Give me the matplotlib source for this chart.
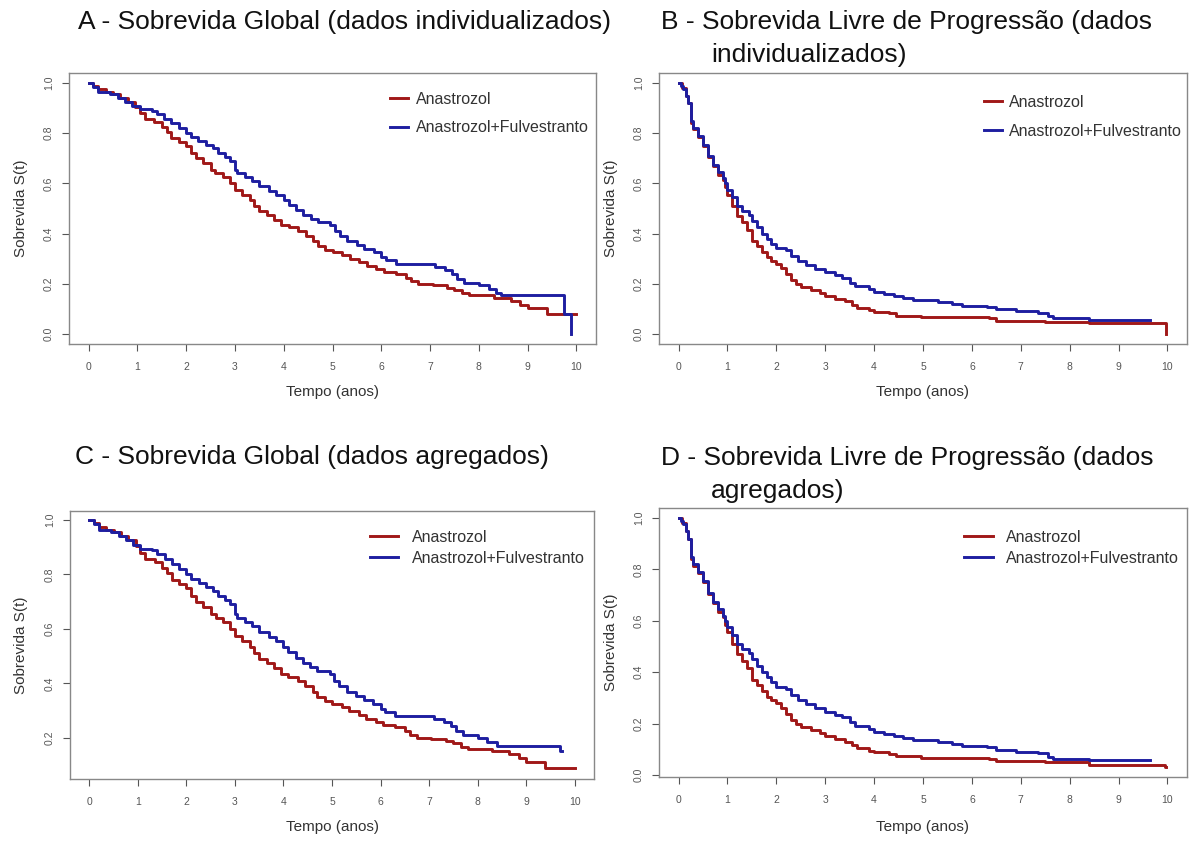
import matplotlib
matplotlib.use("Agg")
import matplotlib.pyplot as plt

plt.rcParams['font.family'] = ['Liberation Sans', 'DejaVu Sans']

# ---------------- DATA ----------------
labels = ["Anastrozol", "Anastrozol+Fulvestranto"]
titles = [["A - Sobrevida Global (dados individualizados)"],
          ["B - Sobrevida Livre de Progressão (dados", "individualizados)"],
          ["C - Sobrevida Global (dados agregados)"],
          ["D - Sobrevida Livre de Progressão (dados", "agregados)"]]
x_ticks = [0, 1, 2, 3, 4, 5, 6, 7, 8, 9, 10]
y_ticks_full = [0.0, 0.2, 0.4, 0.6, 0.8, 1.0]
y_ticks_c = [0.2, 0.4, 0.6, 0.8, 1.0]

# Panel A - OS individual
a_red_t = [0, 0.1, 0.2, 0.35, 0.5, 0.65, 0.8, 0.95, 1.05, 1.15, 1.35, 1.5, 1.6, 1.7, 1.85, 2.0,
           2.1, 2.2, 2.35, 2.5, 2.6, 2.75, 2.9, 3.0, 3.15, 3.3, 3.4, 3.5, 3.65, 3.8, 3.95, 4.1,
           4.3, 4.45, 4.6, 4.7, 4.85, 5.0, 5.2, 5.35, 5.55, 5.7, 5.9, 6.05, 6.3, 6.5, 6.6, 6.75,
           7.05, 7.35, 7.5, 7.65, 7.8, 8.3, 8.65, 8.85, 9.0, 9.4, 10.0]
a_red_s = [1.0, 0.99, 0.975, 0.965, 0.955, 0.94, 0.925, 0.905, 0.88, 0.858, 0.845, 0.825, 0.805,
           0.78, 0.765, 0.75, 0.72, 0.70, 0.68, 0.655, 0.64, 0.625, 0.60, 0.575, 0.555, 0.535,
           0.51, 0.49, 0.475, 0.455, 0.435, 0.425, 0.41, 0.39, 0.37, 0.35, 0.335, 0.325, 0.315,
           0.30, 0.285, 0.27, 0.258, 0.248, 0.24, 0.225, 0.21, 0.20, 0.195, 0.185, 0.175, 0.165,
           0.155, 0.145, 0.13, 0.115, 0.105, 0.08, 0.08]
a_blue_t = [0, 0.1, 0.2, 0.45, 0.6, 0.75, 0.9, 1.05, 1.3, 1.4, 1.55, 1.7, 1.85, 2.0, 2.1, 2.25,
            2.4, 2.55, 2.65, 2.8, 2.9, 3.0, 3.05, 3.2, 3.35, 3.5, 3.7, 3.85, 4.0, 4.1, 4.25, 4.4,
            4.55, 4.7, 4.95, 5.05, 5.15, 5.3, 5.5, 5.65, 5.85, 6.0, 6.1, 6.3, 7.1, 7.3, 7.45,
            7.55, 7.7, 8.0, 8.2, 8.35, 8.45, 9.75, 9.88]
a_blue_s = [1.0, 0.985, 0.965, 0.955, 0.94, 0.925, 0.91, 0.895, 0.89, 0.875, 0.855, 0.84, 0.82,
            0.80, 0.785, 0.77, 0.755, 0.74, 0.72, 0.705, 0.69, 0.655, 0.64, 0.625, 0.61, 0.59,
            0.57, 0.555, 0.535, 0.515, 0.495, 0.475, 0.46, 0.445, 0.435, 0.41, 0.39, 0.37,
            0.355, 0.34, 0.325, 0.305, 0.295, 0.28, 0.265, 0.255, 0.24, 0.22, 0.205, 0.195,
            0.18, 0.165, 0.155, 0.08, 0.0]

# Panel C - OS aggregated
c_red_t = [0, 0.1, 0.2, 0.35, 0.5, 0.65, 0.8, 0.95, 1.05, 1.15, 1.35, 1.5, 1.6, 1.7, 1.85, 2.0,
           2.1, 2.2, 2.35, 2.5, 2.6, 2.75, 2.9, 3.0, 3.15, 3.3, 3.4, 3.5, 3.65, 3.8, 3.95, 4.1,
           4.3, 4.45, 4.6, 4.7, 4.85, 5.0, 5.2, 5.35, 5.55, 5.7, 5.9, 6.05, 6.3, 6.5, 6.6, 6.75,
           7.05, 7.35, 7.5, 7.65, 7.8, 8.3, 8.65, 8.85, 9.0, 9.4, 10.0]
c_red_s = [1.0, 0.99, 0.975, 0.965, 0.955, 0.94, 0.925, 0.905, 0.88, 0.858, 0.845, 0.825, 0.805,
           0.78, 0.765, 0.75, 0.72, 0.70, 0.68, 0.655, 0.64, 0.625, 0.60, 0.575, 0.555, 0.535,
           0.51, 0.49, 0.475, 0.455, 0.435, 0.425, 0.41, 0.39, 0.37, 0.35, 0.335, 0.325, 0.315,
           0.30, 0.285, 0.27, 0.258, 0.248, 0.24, 0.225, 0.21, 0.20, 0.197, 0.19, 0.18, 0.168,
           0.158, 0.15, 0.14, 0.125, 0.11, 0.09, 0.09]
c_blue_t = [0, 0.1, 0.2, 0.45, 0.6, 0.75, 0.9, 1.05, 1.3, 1.4, 1.55, 1.7, 1.85, 2.0, 2.1, 2.25,
            2.4, 2.55, 2.65, 2.8, 2.9, 3.0, 3.05, 3.2, 3.35, 3.5, 3.7, 3.85, 4.0, 4.1, 4.25, 4.4,
            4.55, 4.7, 4.95, 5.05, 5.15, 5.3, 5.5, 5.65, 5.85, 6.0, 6.1, 6.3, 7.1, 7.3, 7.45,
            7.55, 7.7, 8.0, 8.2, 8.4, 9.7, 9.75]
c_blue_s = [1.0, 0.985, 0.965, 0.955, 0.94, 0.925, 0.91, 0.895, 0.89, 0.875, 0.855, 0.84, 0.82,
            0.80, 0.785, 0.77, 0.755, 0.74, 0.72, 0.705, 0.69, 0.655, 0.64, 0.625, 0.61, 0.59,
            0.57, 0.555, 0.535, 0.515, 0.495, 0.475, 0.46, 0.445, 0.435, 0.41, 0.39, 0.37,
            0.355, 0.34, 0.325, 0.305, 0.295, 0.28, 0.27, 0.26, 0.245, 0.225, 0.21, 0.20,
            0.185, 0.17, 0.15, 0.15]

# Panel B - PFS individual
b_red_t = [0, 0.08, 0.15, 0.2, 0.25, 0.3, 0.4, 0.5, 0.6, 0.7, 0.8, 0.9, 0.95, 1.0, 1.1, 1.2,
           1.3, 1.4, 1.5, 1.6, 1.7, 1.8, 1.9, 2.0, 2.1, 2.2, 2.3, 2.4, 2.5, 2.7, 2.9, 3.0, 3.2,
           3.4, 3.55, 3.65, 3.9, 4.0, 4.3, 4.45, 4.95, 6.35, 6.5, 7.5, 8.4, 9.97, 9.97]
b_red_s = [1.0, 0.98, 0.95, 0.92, 0.84, 0.815, 0.785, 0.75, 0.705, 0.67, 0.635, 0.615, 0.585,
           0.555, 0.51, 0.47, 0.445, 0.415, 0.37, 0.35, 0.325, 0.305, 0.29, 0.28, 0.262, 0.238,
           0.215, 0.2, 0.188, 0.175, 0.163, 0.15, 0.138, 0.13, 0.115, 0.105, 0.095, 0.088,
           0.082, 0.072, 0.066, 0.062, 0.053, 0.049, 0.042, 0.042, 0.0]
b_blue_t = [0, 0.05, 0.1, 0.15, 0.2, 0.25, 0.3, 0.4, 0.5, 0.6, 0.7, 0.8, 0.9, 0.95, 1.0, 1.1,
            1.2, 1.3, 1.45, 1.5, 1.6, 1.7, 1.8, 1.9, 2.0, 2.2, 2.3, 2.45, 2.6, 2.8, 3.0, 3.2,
            3.35, 3.5, 3.6, 3.9, 4.0, 4.2, 4.4, 4.6, 4.8, 5.3, 5.6, 5.8, 6.3, 6.5, 6.9, 7.35,
            7.55, 7.65, 8.4, 9.65]
b_blue_s = [1.0, 0.99, 0.975, 0.95, 0.92, 0.85, 0.82, 0.79, 0.755, 0.71, 0.675, 0.645, 0.62,
            0.6, 0.575, 0.545, 0.51, 0.49, 0.475, 0.45, 0.425, 0.40, 0.38, 0.36, 0.342, 0.335,
            0.31, 0.29, 0.275, 0.26, 0.245, 0.235, 0.225, 0.205, 0.19, 0.18, 0.168, 0.16, 0.15,
            0.142, 0.135, 0.128, 0.12, 0.112, 0.107, 0.098, 0.09, 0.085, 0.07, 0.062, 0.056,
            0.056]

# Panel D - PFS aggregated
d_red_t = [0, 0.08, 0.15, 0.2, 0.25, 0.3, 0.4, 0.5, 0.6, 0.7, 0.8, 0.9, 0.95, 1.0, 1.1, 1.2,
           1.3, 1.4, 1.5, 1.6, 1.7, 1.8, 1.9, 2.0, 2.1, 2.2, 2.3, 2.4, 2.5, 2.7, 2.9, 3.0, 3.2,
           3.4, 3.55, 3.65, 3.9, 4.0, 4.3, 4.45, 4.95, 6.35, 6.5, 7.5, 8.4, 9.95, 9.97]
d_red_s = [1.0, 0.98, 0.95, 0.92, 0.84, 0.815, 0.785, 0.75, 0.705, 0.67, 0.635, 0.615, 0.585,
           0.555, 0.51, 0.47, 0.445, 0.415, 0.37, 0.35, 0.325, 0.305, 0.29, 0.28, 0.262, 0.238,
           0.215, 0.2, 0.188, 0.175, 0.163, 0.15, 0.138, 0.13, 0.115, 0.105, 0.095, 0.088,
           0.082, 0.072, 0.066, 0.062, 0.053, 0.049, 0.04, 0.03, 0.03]
d_blue_t = [0, 0.05, 0.1, 0.15, 0.2, 0.25, 0.3, 0.4, 0.5, 0.6, 0.7, 0.8, 0.9, 0.95, 1.0, 1.1,
            1.2, 1.3, 1.45, 1.5, 1.6, 1.7, 1.8, 1.9, 2.0, 2.2, 2.3, 2.45, 2.6, 2.8, 3.0, 3.2,
            3.35, 3.5, 3.6, 3.9, 4.0, 4.2, 4.4, 4.6, 4.8, 5.3, 5.6, 5.8, 6.3, 6.5, 6.9, 7.35,
            7.55, 7.65, 8.4, 9.65]
d_blue_s = [1.0, 0.99, 0.975, 0.95, 0.92, 0.85, 0.82, 0.79, 0.755, 0.71, 0.675, 0.645, 0.62,
            0.6, 0.575, 0.545, 0.51, 0.49, 0.475, 0.45, 0.425, 0.40, 0.38, 0.36, 0.342, 0.335,
            0.31, 0.29, 0.275, 0.26, 0.245, 0.235, 0.225, 0.205, 0.19, 0.18, 0.168, 0.16, 0.15,
            0.142, 0.135, 0.128, 0.12, 0.112, 0.107, 0.098, 0.09, 0.085, 0.07, 0.062, 0.06,
            0.06]

RED = "#A01818"
BLUE = "#1E1EA0"

W, H = 1196, 841
fig = plt.figure(figsize=(W / 100, H / 100), dpi=100)


def px_axes(left, top, right, bottom):
    return fig.add_axes([left / W, 1 - bottom / H, (right - left) / W, (bottom - top) / H])


LEG_FS = 11.5
panels = [
    dict(box=(69, 73, 596, 344), ylim=(-0.04, 1.04), yt=y_ticks_full,
         data=(a_red_t, a_red_s, a_blue_t, a_blue_s),
         leg_xy=(390, 100), ls=0.84, hl=1.1, htp=0.5,
         title_lines=[(78, 22)], ylab_x=21, xlab_y=392),
    dict(box=(659, 73, 1187, 344), ylim=(-0.04, 1.04), yt=y_ticks_full,
         data=(b_red_t, b_red_s, b_blue_t, b_blue_s),
         leg_xy=(984, 103), ls=0.87, hl=1.1, htp=0.45,
         title_lines=[(661, 22), (711, 55)], ylab_x=611, xlab_y=392),
    dict(box=(70, 511, 594, 779), ylim=(0.049, 1.033), yt=y_ticks_c,
         data=(c_red_t, c_red_s, c_blue_t, c_blue_s),
         leg_xy=(370, 538), ls=0.37, hl=1.75, htp=0.85,
         title_lines=[(75, 457)], ylab_x=21, xlab_y=827),
    dict(box=(659, 508, 1187, 777), ylim=(-0.008, 1.039), yt=y_ticks_full,
         data=(d_red_t, d_red_s, d_blue_t, d_blue_s),
         leg_xy=(964, 538), ls=0.37, hl=1.8, htp=0.8,
         title_lines=[(661, 458), (711, 491)], ylab_x=611, xlab_y=827),
]

for i, p in enumerate(panels):
    l, t, r, b = p['box']
    ax = px_axes(l, t, r, b)
    rt, rs, bt, bs = p['data']
    ax.step(rt, rs, where='post', color=RED, lw=2.1, label=labels[0])
    ax.step(bt, bs, where='post', color=BLUE, lw=2.1, label=labels[1])
    ax.set_xlim(-0.4, 10.4)
    ax.set_ylim(*p['ylim'])
    ax.set_xticks(x_ticks)
    ax.set_yticks(p['yt'])
    ax.set_yticklabels([f"{v:.1f}" for v in p['yt']], rotation=90, va='center')
    ax.tick_params(axis='both', labelsize=7.5, colors='#555555', length=5, width=0.8)
    ax.tick_params(axis='x', pad=8)
    ax.tick_params(axis='y', pad=6)
    for sp in ax.spines.values():
        sp.set_color('#888888')
        sp.set_linewidth(1.0)
    ax.set_xlabel("Tempo (anos)", fontsize=11, color='#333333')
    ax.set_ylabel("Sobrevida S(t)", fontsize=11, color='#333333')
    ax.xaxis.set_label_coords(((l + r) / 2 - l) / (r - l), (b - p['xlab_y']) / (b - t))
    ax.yaxis.set_label_coords((p['ylab_x'] - l) / (r - l), 0.5)
    ax.xaxis.label.set_va('center')
    ax.yaxis.label.set_va('center')
    lx, ly = p['leg_xy']
    ax.legend(loc='upper left', bbox_to_anchor=(lx / W, 1 - (ly - 8) / H),
              bbox_transform=fig.transFigure, frameon=False, fontsize=LEG_FS,
              handlelength=p['hl'], handletextpad=p['htp'], labelspacing=p['ls'],
              labelcolor='#333333', borderaxespad=0, borderpad=0)
    for txt, (tx, ty) in zip(titles[i], p['title_lines']):
        fig.text(tx / W, 1 - ty / H, txt, fontsize=19, color='#111111',
                 ha='left', va='center')

fig.savefig("out.png", dpi=100)
